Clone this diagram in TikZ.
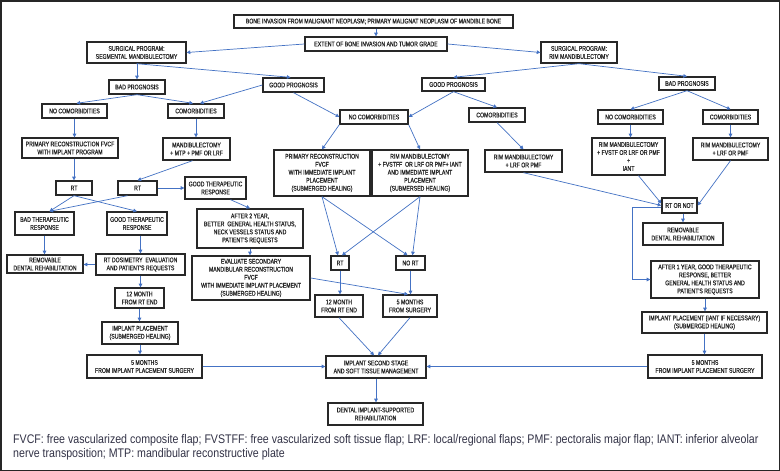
\documentclass[tikz,border=0pt]{standalone}
\usepackage{fontspec}
\setmainfont{Liberation Sans}
\newfontfamily\boxfont[FakeStretch=0.76,FakeBold=0.6]{Liberation Sans}
\newfontfamily\footfont[FakeStretch=0.85]{Liberation Sans}
\usetikzlibrary{arrows.meta,calc}
\definecolor{arrowblue}{RGB}{68,114,196}
\definecolor{boxline}{RGB}{40,40,40}
\definecolor{foottext}{RGB}{50,50,70}
\newcommand{\mybox}[7][]{%
 \pgfmathsetmacro\bxw{#5-#3}%
 \pgfmathsetmacro\bxh{#6-#4}%
 \pgfmathsetmacro\bxcx{(#3+#5)/2}%
 \pgfmathsetmacro\bxcy{(#4+#6)/2}%
 \node[box,minimum width=\bxw pt,minimum height=\bxh pt,#1] (#2) at (\bxcx,\bxcy) {#7};}
\tikzset{
 box/.style={draw=boxline, line width=1.35pt, fill=white, align=center, inner sep=1pt,
   font=\boxfont\fontsize{6.8}{8}\selectfont, text=black!85},
 arr/.style={draw=arrowblue, line width=0.7pt, -{Triangle[width=3.6pt,length=3.6pt]}},
 foot/.style={inner sep=0pt, font=\footfont\fontsize{12.5}{14}\selectfont, text=foottext}
}
\begin{document}
\begin{tikzpicture}[x=1pt,y=-1pt]
\useasboundingbox (0,0) rectangle (780,471);
\fill[white] (0,0) rectangle (780,471);
\draw[line width=1.5pt, black!85] (0.75,0.75) rectangle (779.25,470.25);

\mybox{top}{234}{15}{513}{28}{BONE INVASION FROM MALIGNANT NEOPLASM; PRIMARY MALIGNAT NEOPLASM OF MANDIBLE BONE}
\mybox{extent}{305}{37}{447}{51}{EXTENT OF BONE INVASION AND TUMOR GRADE}
\mybox{seg}{87}{42}{186}{63}{SURGICAL PROGRAM:\\SEGMENTAL MANDIBULECTOMY}
\mybox{rim}{541}{42}{617}{63}{SURGICAL PROGRAM:\\RIM MANDIBULECTOMY}
\mybox{badL}{109}{80}{165}{94}{BAD PROGNOSIS}
\mybox{goodL}{263}{78}{324}{92}{GOOD PROGNOSIS}
\mybox{goodR}{422}{78}{485}{91}{GOOD PROGNOSIS}
\mybox{badR}{659}{77}{715}{90}{BAD PROGNOSIS}
\mybox{noL}{42}{104}{107}{118}{NO COMORBIDITIES}
\mybox{comL}{168}{104}{224}{118}{COMORBIDITIES}
\mybox{noC}{340}{110}{408}{124}{NO COMORBIDITIES}
\mybox{comC}{469}{108}{525}{122}{COMORBIDITIES}
\mybox{noR}{598}{110}{663}{124}{NO COMORBIDITIES}
\mybox{comR}{703}{110}{758}{124}{COMORBIDITIES}
\mybox{primL}{22}{138}{118}{158}{PRIMARY RECONSTRUCTION FVCF\\WITH IMPLANT PROGRAM}
\mybox{mand}{163}{138}{230}{160}{MANDIBULECTOMY\\+ MTP + PMF OR LRF}
\mybox{primC}{274}{150}{370}{196}{PRIMARY RECONSTRUCTION\\FVCF\\WITH IMMEDIATE IMPLANT\\PLACEMENT\\(SUBMERGED HEALING)}
\mybox{rimC}{372}{150}{468}{196}{RIM MANDIBULECTOMY\\+ FVSTFF~ OR LRF OR PMF+ IANT\\AND IMMEDIATE IMPLANT\\PLACEMENT\\(SUBMERSED HEALING)}
\mybox{rimLR}{485}{150}{562}{172}{RIM MANDIBULECTOMY\\+ LRF OR PMF}
\mybox{rimF}{592}{138}{665}{175}{RIM MANDIBULECTOMY\\+ FVSTF OR LRF OR PMF\\+\\IANT}
\mybox{rimR}{693}{138}{768}{160}{RIM MANDIBULECTOMY\\+ LRF OR PMF}
\mybox{rt1}{56}{181}{92}{195}{RT}
\mybox{rt2}{118}{181}{157}{195}{RT}
\mybox{gtr1}{185}{177}{246}{199}{GOOD THERAPEUTIC\\RESPONSE}
\mybox{rtnot}{662}{198}{697}{213}{RT OR NOT}
\mybox{btr}{15}{212}{74}{235}{BAD THERAPEUTIC\\RESPONSE}
\mybox{gtr2}{107}{212}{167}{235}{GOOD THERAPEUTIC\\RESPONSE}
\mybox{after2}{197}{209}{303}{248}{AFTER 2 YEAR,\\BETTER~ GENERAL HEALTH STATUS,\\NECK VESSELS STATUS AND\\PATIENT'S REQUESTS}
\mybox{remR}{643}{223}{723}{245}{REMOVABLE\\DENTAL REHABILITATION}
\mybox{remL}{7}{255}{83}{273}{REMOVABLE\\DENTAL REHABILITATION}
\mybox{dos}{96}{254}{185}{275}{RT DOSIMETRY~ EVALUATION\\AND PATIENT'S REQUESTS}
\mybox{eval}{192}{256}{310}{300}{EVALUATE SECONDARY\\MANDIBULAR RECONSTRUCTION\\FVCF\\WITH IMMEDIATE IMPLANT PLACEMENT\\(SUBMERGED HEALING)}
\mybox{rtC}{331}{256}{349}{270}{RT}
\mybox{nort}{396}{256}{425}{270}{NO RT}
\mybox{after1}{651}{261}{759}{298}{AFTER 1 YEAR, GOOD THERAPEUTIC\\RESPONSE, BETTER\\GENERAL HEALTH STATUS AND\\PATIENT'S REQUESTS}
\mybox{m12L}{115}{288}{164}{308}{12 MONTH\\FROM RT END}
\mybox{m12C}{315}{295}{363}{317}{12 MONTH\\FROM RT END}
\mybox{m5S}{383}{295}{437}{317}{5 MONTHS\\FROM SURGERY}
\mybox{impR}{642}{312}{767}{333}{IMPLANT PLACEMENT (IANT IF NECESSARY)\\(SUBMERGED HEALING)}
\mybox{implL}{102}{322}{178}{344}{IMPLANT PLACEMENT\\(SUBMERGED HEALING)}
\mybox{m5L}{87}{355}{202}{378}{5 MONTHS\\FROM IMPLANT PLACEMENT SURGERY}
\mybox{isec}{326}{356}{426}{378}{IMPLANT SECOND STAGE\\AND SOFT TISSUE MANAGEMENT}
\mybox{m5R}{648}{355}{762}{378}{5 MONTHS\\FROM IMPLANT PLACEMENT SURGERY}
\mybox{dental}{328}{403}{423}{425}{DENTAL IMPLANT-SUPPORTED\\REHABILITATION}

\draw[arr] (extent.north |- top.south) -- (extent.north);
\draw[arr] (extent.west) -- (seg.east);
\draw[arr] (extent.east) -- (rim.west);
\draw[arr] (badL.north |- seg.south) -- (badL.north);
\draw[arr] (seg.south) -- ([xshift=-3pt]goodL.north);
\draw[arr] (badL.south) -- ([xshift=2pt]noL.north);
\draw[arr] (badL.south) -- ([xshift=-3pt]comL.north);
\draw[arr] (goodL.west) -- ([xshift=4pt]comL.north);
\draw[arr] (rim.south) -- (goodR.north);
\draw[arr] (rim.south) -- (badR.north);
\draw[arr] (goodL.south) -- (noC.west);
\draw[arr] (goodR.south) -- (noC.east);
\draw[arr] (goodR.south) -- (comC.north);
\draw[arr] (badR.south) -- (noR.north);
\draw[arr] (badR.south) -- (comR.north);
\draw[arr] (noL.south) -- (noL.south |- primL.north);
\draw[arr] (comL.south) -- (comL.south |- mand.north);
\draw[arr] (rt1.north |- primL.south) -- (rt1.north);
\draw[arr] ([xshift=-4pt]mand.south) -- (rt2.north);
\draw[arr] (rt2.east) -- (gtr1.west);
\draw[arr] (rt1.south) -- ([xshift=5pt]btr.north);
\draw[arr] (rt1.south) -- (gtr2.north);
\draw[arr] ([xshift=-10pt]rt2.south) -- ([xshift=5pt]btr.north);
\draw[arr] ([xshift=15pt]gtr1.south) -- (after2.north);
\draw[arr] (after2.south) -- (after2.south |- eval.north);
\draw[arr] (btr.south) -- (btr.south |- remL.north);
\draw[arr] (dos.north |- gtr2.south) -- (dos.north);
\draw[arr] (dos.west) -- (dos.west -| remL.east);
\draw[arr] (dos.south) -- (dos.south |- m12L.north);
\draw[arr] (m12L.south) -- (m12L.south |- implL.north);
\draw[arr] (implL.south) -- (implL.south |- m5L.north);
\draw[arr] (m5L.east) -- (m5L.east -| isec.west);
\draw[arr] (m5R.west) -- (m5R.west -| isec.east);
\draw[arr] (noC.south west) -- (primC.north);
\draw[arr] (noC.south east) -- (rimC.north);
\draw[arr] (comC.south) -- (rimLR.north);
\draw[arr] (primC.south) -- ([xshift=-2pt]rtC.north);
\draw[arr] (primC.south) -- ([xshift=-3pt]nort.north);
\draw[arr] (rimC.south) -- ([xshift=2pt]rtC.north);
\draw[arr] (rimC.south) -- ([xshift=2pt]nort.north);
\draw[arr] (eval.east) -- ([xshift=-2pt]m5S.north);
\draw[arr] (rtC.south) -- (rtC.south |- m12C.north);
\draw[arr] (nort.south) -- (nort.south |- m5S.north);
\draw[arr] (m12C.south) -- ([xshift=-2pt]isec.north);
\draw[arr] (m5S.south) -- ([xshift=2pt]isec.north);
\draw[arr] (isec.south) -- (isec.south |- dental.north);
\draw[arr] (noR.south) -- (noR.south |- rimF.north);
\draw[arr] (comR.south) -- (comR.south |- rimR.north);
\draw[arr] (rimLR.south) -- (rtnot.west);
\draw[arr] ([xshift=10pt]rimF.south) -- ([yshift=2pt]rtnot.west);
\draw[arr] (rimR.south) -- (rtnot.east);
\draw[arr] (remR.north |- rtnot.south) -- (remR.north);
\draw[arr] ([yshift=-1.5pt]rtnot.west) -- ++(-29,0) |- (after1.west);
\draw[arr] (after1.south) -- (after1.south |- impR.north);
\draw[arr] (impR.south) -- (impR.south |- m5R.north);

\node[foot, anchor=base west] (foot1) at (13,443) {FVCF: free vascularized composite flap; FVSTFF: free vascularized soft tissue flap; LRF: local/regional flaps; PMF: pectoralis major flap; IANT: inferior alveolar};
\node[foot, anchor=base west] (foot2) at (13,457) {nerve transposition; MTP: mandibular reconstructive plate};
\end{tikzpicture}
\end{document}
